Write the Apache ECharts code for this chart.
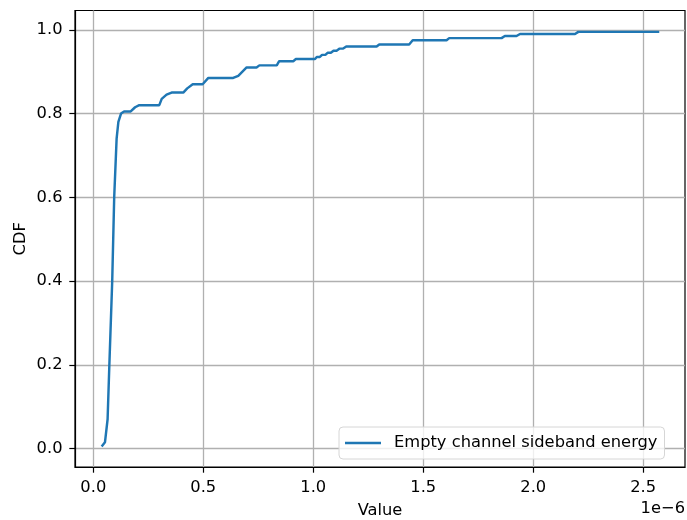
<!DOCTYPE html>
<html>
<head>
<meta charset="utf-8">
<script src="https://cdn.jsdelivr.net/npm/echarts@6/dist/echarts.min.js"></script>
<style>
  html, body { margin: 0; padding: 0; background: #fff; }
  #chart { width: 687px; height: 520px; }
</style>
</head>
<body>
<div id="chart"></div>
<script>
// Empirical CDF of the sideband energy (values in units of 1e-6)
const energyValues = [
  0.038, 0.053, 0.065, 0.073, 0.086, 0.095, 0.106, 0.114, 0.126, 0.140,
  0.170, 0.190, 0.209, 0.300, 0.311, 0.333, 0.356, 0.409, 0.427, 0.452,
  0.497, 0.523, 0.636, 0.659, 0.697, 0.742, 0.755, 0.834, 0.845, 0.909,
  0.921, 1.008, 1.016, 1.030, 1.040, 1.055, 1.065, 1.080, 1.092, 1.106,
  1.120, 1.136, 1.150, 1.164, 1.288, 1.300, 1.436, 1.452, 1.606, 1.618,
  1.856, 1.871, 1.924, 1.940, 2.190, 2.205, 2.573
];
const cdfValues = [
  0.005, 0.015, 0.070, 0.200, 0.400, 0.600, 0.740, 0.780, 0.800, 0.805,
  0.805, 0.815, 0.820, 0.820, 0.835, 0.845, 0.850, 0.850, 0.860, 0.870,
  0.870, 0.885, 0.885, 0.890, 0.910, 0.910, 0.915, 0.915, 0.925, 0.925,
  0.930, 0.930, 0.935, 0.935, 0.940, 0.940, 0.945, 0.945, 0.950, 0.950,
  0.955, 0.955, 0.960, 0.960, 0.960, 0.965, 0.965, 0.975, 0.975, 0.980,
  0.980, 0.985, 0.985, 0.990, 0.990, 0.995, 0.995
];
const xTicks = [0.0, 0.5, 1.0, 1.5, 2.0, 2.5];
const yTicks = [0.0, 0.2, 0.4, 0.6, 0.8, 1.0];
const seriesName = 'Empty channel sideband energy';

const FONT = 'DejaVu Sans';
const FS = 16.3;
const points = energyValues.map((v, i) => [v, cdfValues[i]]);

const chart = echarts.init(document.getElementById('chart'), null, { renderer: 'canvas' });
chart.setOption({
  animation: false,
  backgroundColor: '#fff',
  textStyle: { fontFamily: FONT },
  grid: {
    left: 75, right: 2, top: 10.5, bottom: 53,
    outerBoundsMode: 'none', containLabel: false,
    show: true, borderColor: '#000', borderWidth: 1.2, backgroundColor: 'transparent'
  },
  legend: {
    data: [seriesName],
    left: 339, top: 427,
    icon: 'rect', itemWidth: 36, itemHeight: 2.5,
    padding: [7, 7, 7, 6],
    backgroundColor: 'rgba(255,255,255,0.8)',
    borderColor: '#d6d6d6', borderWidth: 1, borderRadius: 4,
    textStyle: { fontFamily: FONT, fontSize: FS, lineHeight: 18, color: '#000', padding: [0, 0, 0, 8] }
  },
  xAxis: {
    type: 'value', min: -0.0832, max: 2.69,
    name: 'Value', nameLocation: 'middle', nameGap: 36,
    nameTextStyle: { fontFamily: FONT, fontSize: FS, color: '#000' },
    axisLine: { show: true, onZero: false, lineStyle: { color: '#000', width: 1.2 } },
    axisTick: { show: true, length: 5.7, customValues: xTicks, lineStyle: { color: '#000', width: 1.2 } },
    axisLabel: { customValues: xTicks, margin: 13, fontFamily: FONT, fontSize: FS, color: '#000',
                 formatter: v => v.toFixed(1) },
    splitLine: { show: true, lineStyle: { color: '#b0b0b0', width: 1.3 } }
  },
  yAxis: {
    type: 'value', min: -0.044, max: 1.046,
    name: 'CDF', nameLocation: 'middle', nameGap: 46, nameRotate: 90,
    nameMoveOverlap: false,
    nameTextStyle: { fontFamily: FONT, fontSize: FS, color: '#000' },
    axisLine: { show: true, onZero: false, lineStyle: { color: '#000', width: 1.2 } },
    axisTick: { show: true, length: 5.7, customValues: yTicks, lineStyle: { color: '#000', width: 1.2 } },
    axisLabel: { customValues: yTicks, margin: 12.5, fontFamily: FONT, fontSize: FS, color: '#000',
                 formatter: v => v.toFixed(1) },
    splitLine: { show: true, lineStyle: { color: '#b0b0b0', width: 1.3 } }
  },
  graphic: [{
    type: 'text', right: 2, top: 501,
    style: { text: '1e\u22126', fontFamily: FONT, fontSize: FS, fill: '#000', textAlign: 'right' }
  }],
  series: [{
    name: seriesName,
    type: 'line',
    data: points,
    showSymbol: false,
    smooth: false,
    lineStyle: { color: '#1f77b4', width: 2.45 },
    itemStyle: { color: '#1f77b4' },
    z: 3
  }]
});
</script>
</body>
</html>
